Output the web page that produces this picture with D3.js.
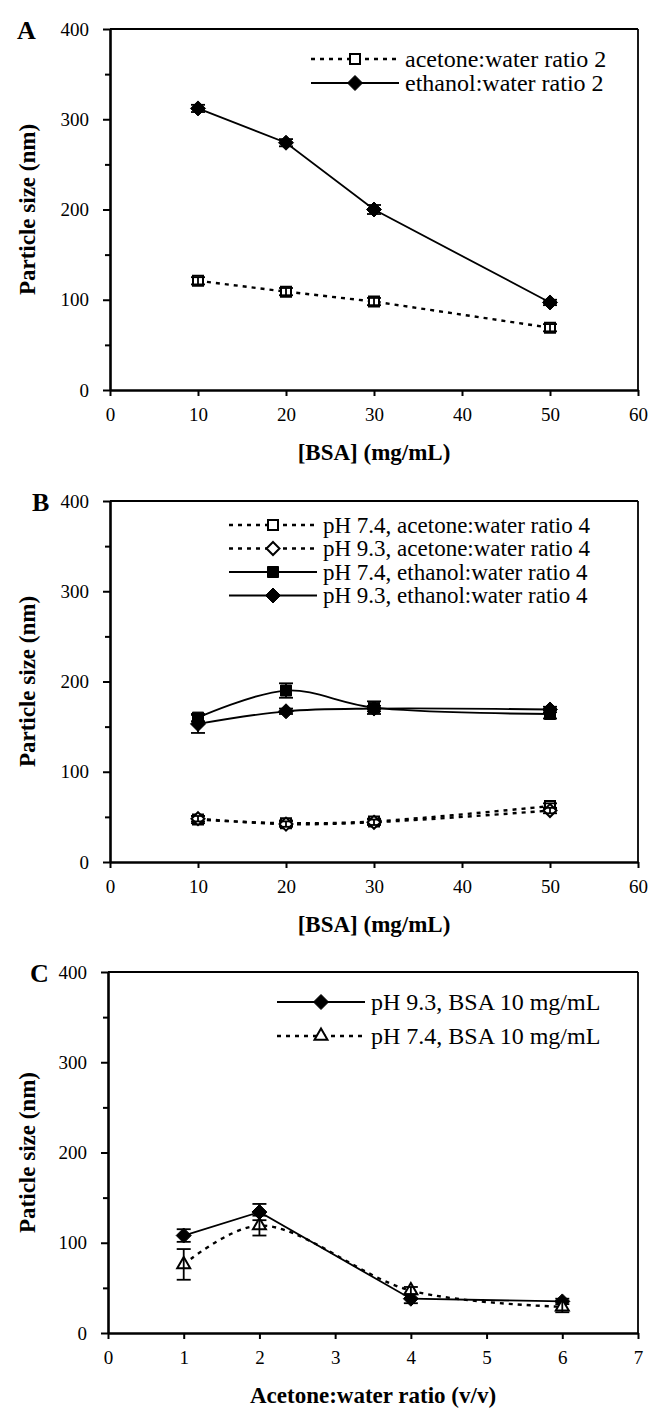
<!DOCTYPE html>
<html>
<head>
<meta charset="utf-8">
<script src="https://cdn.jsdelivr.net/npm/d3@7"></script>
<style>
  body { margin: 0; background: #fff; }
  svg { display: block; }
  svg text { font-family: "Liberation Serif", serif; fill: #000; }
</style>
</head>
<body>
<svg id="fig" width="648" height="1408"></svg>
<script>
// ---- data ----
var bsaLevels = [10, 20, 30, 50];
var ratioLevels = [1, 2, 4, 6];

// panel A
var aAcetone = [121, 109, 98, 69];
var aAcetoneErr = [4, 4, 4, 4];
var aEthanol = [312, 274, 200, 97];
var aEthanolErr = [4, 4, 5, 3];

// panel B
var bAcetone74 = [47, 43, 45, 62];
var bAcetone74Err = [4, 3, 3, 3];
var bAcetone93 = [48, 42, 44, 57];
var bAcetone93Err = [3, 3, 3, 3];
var bEthanol74 = [160, 190, 171, 164];
var bEthanol74Err = [4, 8, 7, 5];
var bEthanol93 = [153, 167, 170, 169];
var bEthanol93Err = [10, 3, 3, 3];

// panel C
var cPH93 = [108, 134, 38, 35];
var cPH93Err = [7, 9, 5, 3];
var cPH74 = [76, 119, 47, 29];
var cPH74Err = [17, 11, 4, 6];

var yTicks = [0, 100, 200, 300, 400];
var yMinor = [50, 150, 250, 350];

var serif = '"Liberation Serif", serif';

// ---- panel setup ----
var panels = [
  { letter: "A", letterX: 17, top: 29, left: 110, xMax: 60, xTicks: d3.range(0, 61, 10),
    xTitle: "[BSA] (mg/mL)", yTitle: "Particle size (nm)",
    legendX: 311, legendY: 59, legendGap: 24, legendFont: 24,
    series: [
      { name: "acetone:water ratio 2", x: bsaLevels, y: aAcetone, err: aAcetoneErr, dashed: true, marker: "square", filled: false, smooth: false },
      { name: "ethanol:water ratio 2", x: bsaLevels, y: aEthanol, err: aEthanolErr, dashed: false, marker: "diamond", filled: true, smooth: false }
    ] },
  { letter: "B", letterX: 32, top: 501, left: 110, xMax: 60, xTicks: d3.range(0, 61, 10),
    xTitle: "[BSA] (mg/mL)", yTitle: "Particle size (nm)",
    legendX: 229, legendY: 525, legendGap: 23.5, legendFont: 23,
    series: [
      { name: "pH 7.4, acetone:water ratio 4", x: bsaLevels, y: bAcetone74, err: bAcetone74Err, dashed: true, marker: "square", filled: false, smooth: true },
      { name: "pH 9.3, acetone:water ratio 4", x: bsaLevels, y: bAcetone93, err: bAcetone93Err, dashed: true, marker: "diamond", filled: false, smooth: true },
      { name: "pH 7.4, ethanol:water ratio 4", x: bsaLevels, y: bEthanol74, err: bEthanol74Err, dashed: false, marker: "square", filled: true, smooth: true },
      { name: "pH 9.3, ethanol:water ratio 4", x: bsaLevels, y: bEthanol93, err: bEthanol93Err, dashed: false, marker: "diamond", filled: true, smooth: true }
    ] },
  { letter: "C", letterX: 30, top: 972, left: 108, xMax: 7, xTicks: d3.range(0, 8, 1),
    xTitle: "Acetone:water ratio (v/v)", yTitle: "Paticle size (nm)",
    legendX: 277, legendY: 1002, legendGap: 34, legendFont: 24,
    series: [
      { name: "pH 9.3, BSA 10 mg/mL", x: ratioLevels, y: cPH93, err: cPH93Err, dashed: false, marker: "diamond", filled: true, smooth: false },
      { name: "pH 7.4, BSA 10 mg/mL", x: ratioLevels, y: cPH74, err: cPH74Err, dashed: true, marker: "triangle", filled: false, smooth: true }
    ] }
];

var plotRight = 638;
var plotHeight = 361;
var dash = "4,5";

function markerPath(kind, filled) {
  if (kind === "square") {
    var s = filled ? 11 : 10, h = s / 2;
    return "M" + (-h) + "," + (-h) + "h" + s + "v" + s + "h" + (-s) + "Z";
  }
  if (kind === "diamond") {
    var r = filled ? 7.5 : 6.5;
    return "M0," + (-r) + "L" + r + ",0L0," + r + "L" + (-r) + ",0Z";
  }
  // triangle
  var t = 13, th = t * 0.866;
  return "M0," + (-th * 2 / 3) + "L" + (t / 2) + "," + (th / 3) + "L" + (-t / 2) + "," + (th / 3) + "Z";
}

function drawMarker(g, s) {
  return g.append("path")
    .attr("d", markerPath(s.marker, s.filled))
    .attr("fill", s.filled ? "#000" : "#fff")
    .attr("stroke", "#000")
    .attr("stroke-width", s.filled ? 1 : 2);
}

var svg = d3.select("#fig");

panels.forEach(function(p) {
  var bottom = p.top + plotHeight;
  var x = d3.scaleLinear().domain([0, p.xMax]).range([p.left, plotRight]);
  var y = d3.scaleLinear().domain([0, 400]).range([bottom, p.top]);
  var g = svg.append("g");

  // frame (top and right are thinner)
  g.append("line").attr("x1", p.left).attr("x2", plotRight).attr("y1", p.top).attr("y2", p.top)
    .attr("stroke", "#000").attr("stroke-width", 1.8);
  g.append("line").attr("x1", plotRight).attr("x2", plotRight).attr("y1", p.top).attr("y2", bottom)
    .attr("stroke", "#000").attr("stroke-width", 1.8);

  // axes
  g.append("g").attr("transform", "translate(" + p.left + ",0)")
    .call(d3.axisLeft(y).tickValues(yTicks).tickSize(7).tickSizeOuter(0).tickPadding(14));
  g.append("g").attr("transform", "translate(" + p.left + ",0)")
    .call(d3.axisLeft(y).tickValues(yMinor).tickSize(5).tickFormat(""))
    .select(".domain").remove();
  g.append("g").attr("transform", "translate(0," + bottom + ")")
    .call(d3.axisBottom(x).tickValues(p.xTicks).tickFormat(d3.format("d"))
      .tickSize(6).tickSizeOuter(0).tickPadding(12));

  g.selectAll("g").attr("font-family", serif).attr("font-size", 19);
  g.selectAll(".domain").attr("stroke-width", 2.6);
  g.selectAll(".tick line").attr("stroke-width", 2);
  g.selectAll(".tick text").style("font-size", "19px").style("font-family", serif);

  // titles
  g.append("text").attr("x", (p.left + plotRight) / 2).attr("y", bottom + 70)
    .attr("text-anchor", "middle").style("font-family", serif)
    .style("font-size", "23px").style("font-weight", "bold")
    .text(p.xTitle);
  g.append("text").attr("transform", "translate(35," + (p.top + bottom) / 2 + ") rotate(-90)")
    .attr("text-anchor", "middle").style("font-family", serif)
    .style("font-size", "23px").style("font-weight", "bold")
    .text(p.yTitle);
  g.append("text").attr("x", p.letterX).attr("y", p.top + 10).style("font-family", serif)
    .style("font-size", "26px").style("font-weight", "bold").text(p.letter);

  // series
  p.series.forEach(function(s) {
    var pts = s.x.map(function(v, i) { return { x: v, y: s.y[i], e: s.err[i] }; });
    var line = d3.line().x(function(d) { return x(d.x); }).y(function(d) { return y(d.y); })
      .curve(s.smooth ? d3.curveCatmullRom.alpha(0.5) : d3.curveLinear);
    g.append("path").datum(pts).attr("d", line).attr("fill", "none").attr("stroke", "#000")
      .attr("stroke-width", s.dashed ? 2.4 : 1.8)
      .attr("stroke-dasharray", s.dashed ? dash : null);

    pts.forEach(function(d) {
      drawMarker(g, s).attr("transform", "translate(" + x(d.x) + "," + y(d.y) + ")");
    });

    var eb = g.append("g").attr("stroke", "#000").attr("stroke-width", 1.8);
    pts.forEach(function(d) {
      var cx = x(d.x), y1 = y(d.y + d.e), y2 = y(d.y - d.e);
      eb.append("line").attr("x1", cx).attr("x2", cx).attr("y1", y1).attr("y2", y2);
      eb.append("line").attr("x1", cx - 7).attr("x2", cx + 7).attr("y1", y1).attr("y2", y1);
      eb.append("line").attr("x1", cx - 7).attr("x2", cx + 7).attr("y1", y2).attr("y2", y2);
    });
  });

  // legend
  p.series.forEach(function(s, i) {
    var ly = p.legendY + i * p.legendGap;
    g.append("line").attr("x1", p.legendX).attr("x2", p.legendX + 88).attr("y1", ly).attr("y2", ly)
      .attr("stroke", "#000").attr("stroke-width", s.dashed ? 2.4 : 1.8)
      .attr("stroke-dasharray", s.dashed ? dash : null);
    drawMarker(g, s).attr("transform", "translate(" + (p.legendX + 44) + "," + ly + ")");
    g.append("text").attr("x", p.legendX + 94).attr("y", ly).attr("dy", "0.33em")
      .style("font-family", serif).style("font-size", p.legendFont + "px").text(s.name);
  });
});
</script>
</body>
</html>
